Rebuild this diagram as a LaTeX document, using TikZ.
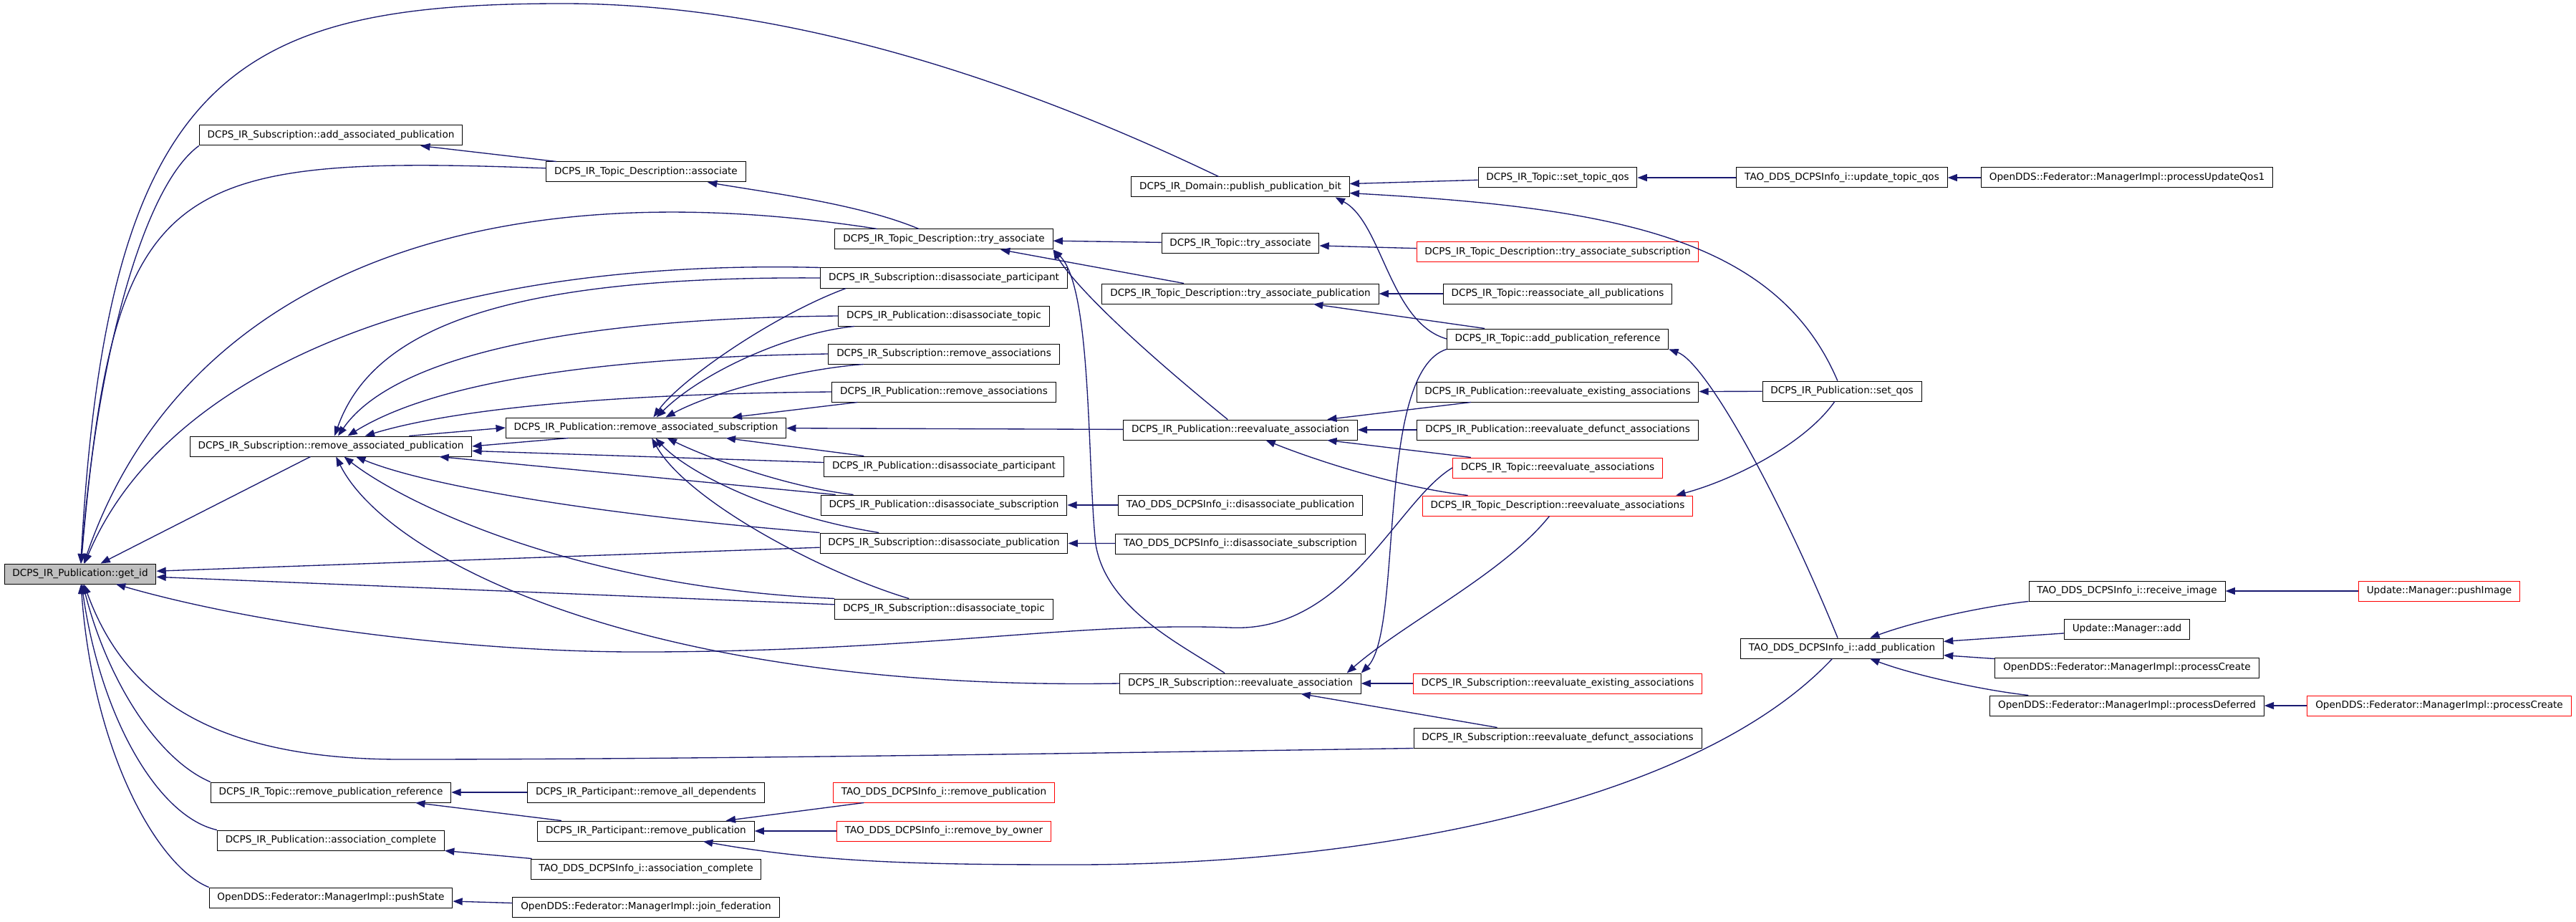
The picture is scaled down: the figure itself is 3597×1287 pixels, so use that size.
\documentclass[tikz,border=0pt]{standalone}
\usepackage{fontspec}
\setmainfont{DejaVu Sans}
\usepackage{tikz}
\usetikzlibrary{arrows.meta}
\definecolor{callblue}{RGB}{25,25,112}
\definecolor{selfgray}{RGB}{191,191,191}

\begin{document}
\begin{tikzpicture}[x=0.75bp,y=-0.75bp,>={Triangle[length=10bp,width=7.5bp]},
  fn/.style={draw=black,line width=0.75bp,fill=white,font=\fontsize{10.2bp}{12bp}\selectfont,
    minimum height=21bp,inner xsep=8.5bp,inner ysep=0pt,text height=7.7bp,text depth=2.3bp},
  fnred/.style={fn,draw=red},
  calls/.style={<-,draw=callblue,line width=1bp}]
\path[use as bounding box,fill=white] (0,0) rectangle (3597,1287);
%%%FUNCTIONS
\node[fn,fill=selfgray] (getid) at (112,801) {DCPS\_IR\_Publication::get\_id};

\node[fn] (addassoc) at (462,189) {DCPS\_IR\_Subscription::add\_associated\_publication};
\node[fn] (remassocpub) at (462,623) {DCPS\_IR\_Subscription::remove\_associated\_publication};
\node[fn] (rempubref) at (462,1106) {DCPS\_IR\_Topic::remove\_publication\_reference};
\node[fn] (pubassoccompl) at (462,1173) {DCPS\_IR\_Publication::association\_complete};
\node[fn] (pushstate) at (462,1253) {OpenDDS::Federator::ManagerImpl::pushState};

\node[fn] (associate) at (902,240) {DCPS\_IR\_Topic\_Description::associate};
\node[fn] (remassocsub) at (902,597) {DCPS\_IR\_Publication::remove\_associated\_subscription};
\node[fn] (remalldeps) at (902,1106) {DCPS\_IR\_Participant::remove\_all\_dependents};
\node[fn] (partrempub) at (902,1160) {DCPS\_IR\_Participant::remove\_publication};
\node[fn] (taoassoccompl) at (902,1213) {TAO\_DDS\_DCPSInfo\_i::association\_complete};
\node[fn] (joinfed) at (902,1266) {OpenDDS::Federator::ManagerImpl::join\_federation};

\node[fn] (tryassoc) at (1318,334) {DCPS\_IR\_Topic\_Description::try\_associate};
\node[fn] (subdispart) at (1318,388) {DCPS\_IR\_Subscription::disassociate\_participant};
\node[fn] (pubdistopic) at (1318,441) {DCPS\_IR\_Publication::disassociate\_topic};
\node[fn] (subremassocs) at (1318,494) {DCPS\_IR\_Subscription::remove\_associations};
\node[fn] (pubremassocs) at (1318,547) {DCPS\_IR\_Publication::remove\_associations};
\node[fn] (pubdispart) at (1318,651) {DCPS\_IR\_Publication::disassociate\_participant};
\node[fn] (pubdissub) at (1318,705) {DCPS\_IR\_Publication::disassociate\_subscription};
\node[fn] (subdispub) at (1318,758) {DCPS\_IR\_Subscription::disassociate\_publication};
\node[fn] (subdistopic) at (1318,850) {DCPS\_IR\_Subscription::disassociate\_topic};
\node[fnred] (taorempub) at (1318,1106) {TAO\_DDS\_DCPSInfo\_i::remove\_publication};
\node[fnred] (taorembyowner) at (1318,1160) {TAO\_DDS\_DCPSInfo\_i::remove\_by\_owner};

\node[fn] (pubbit) at (1732,261) {DCPS\_IR\_Domain::publish\_publication\_bit};
\node[fn] (toptryassoc) at (1732,340) {DCPS\_IR\_Topic::try\_associate};
\node[fn] (tryassocpub) at (1732,410) {DCPS\_IR\_Topic\_Description::try\_associate\_publication};
\node[fn] (pubreeval) at (1732,600) {DCPS\_IR\_Publication::reevaluate\_association};
\node[fn] (taodispub) at (1732,705) {TAO\_DDS\_DCPSInfo\_i::disassociate\_publication};
\node[fn] (taodissub) at (1732,759) {TAO\_DDS\_DCPSInfo\_i::disassociate\_subscription};
\node[fn] (subreeval) at (1732,954) {DCPS\_IR\_Subscription::reevaluate\_association};

\node[fn] (settopicqos) at (2175,248) {DCPS\_IR\_Topic::set\_topic\_qos};
\node[fnred] (tryassocsub) at (2175,352) {DCPS\_IR\_Topic\_Description::try\_associate\_subscription};
\node[fn] (reassocall) at (2175,410) {DCPS\_IR\_Topic::reassociate\_all\_publications};
\node[fn] (addpubref) at (2175,473) {DCPS\_IR\_Topic::add\_publication\_reference};
\node[fn] (pubreevalex) at (2175,547) {DCPS\_IR\_Publication::reevaluate\_existing\_associations};
\node[fn] (pubreevaldef) at (2175,600) {DCPS\_IR\_Publication::reevaluate\_defunct\_associations};
\node[fnred] (topreeval) at (2175,653) {DCPS\_IR\_Topic::reevaluate\_associations};
\node[fnred] (tdreeval) at (2175,706) {DCPS\_IR\_Topic\_Description::reevaluate\_associations};
\node[fnred] (subreevalex) at (2175,954) {DCPS\_IR\_Subscription::reevaluate\_existing\_associations};
\node[fn] (subreevaldef) at (2175,1030) {DCPS\_IR\_Subscription::reevaluate\_defunct\_associations};

\node[fn] (updtopicqos) at (2572,248) {TAO\_DDS\_DCPSInfo\_i::update\_topic\_qos};
\node[fn] (setqos) at (2572,546) {DCPS\_IR\_Publication::set\_qos};
\node[fn] (addpub) at (2572,905) {TAO\_DDS\_DCPSInfo\_i::add\_publication};

\node[fn] (procupdqos) at (2970,248) {OpenDDS::Federator::ManagerImpl::processUpdateQos1};
\node[fn] (recvimage) at (2970,825) {TAO\_DDS\_DCPSInfo\_i::receive\_image};
\node[fn] (mgradd) at (2970,878) {Update::Manager::add};
\node[fn] (proccreate) at (2970,932) {OpenDDS::Federator::ManagerImpl::processCreate};
\node[fn] (procdeferred) at (2970,985) {OpenDDS::Federator::ManagerImpl::processDeferred};

\node[fnred] (pushimage) at (3406,825) {Update::Manager::pushImage};
\node[fnred] (proccreatetwo) at (3406,985) {OpenDDS::Federator::ManagerImpl::processCreate};

%%%CALLS INTO get_id
\draw[calls] (getid) .. controls (150,100) and (330,5) .. (786,5) .. controls (1150,5) and (1500,150) .. (pubbit);
\draw[calls] (getid) .. controls (135,500) and (200,260) .. (addassoc.south west);
\draw[calls] (getid) .. controls (160,250) and (230,215) .. (associate);
\draw[calls] (getid) .. controls (250,400) and (650,230) .. (tryassoc);
\draw[calls] (getid) .. controls (230,520) and (600,360) .. (subdispart.north west);
\draw[calls] (getid) -- (remassocpub);
\draw[calls] (getid) -- (subdispub);
\draw[calls] (getid) -- (subdistopic);
\draw[calls] (getid) .. controls (350,870) and (650,912) .. (914,910) .. controls (1300,908) and (1500,868) .. (1716,876) .. controls (1880,885) and (1950,700) .. (topreeval.west);
\draw[calls] (getid) .. controls (170,960) and (280,1060) .. (560,1060) .. controls (1000,1060) and (1600,1050) .. (subreevaldef.south west);
\draw[calls] (getid) .. controls (150,950) and (220,1060) .. (rempubref.north west);
\draw[calls] (getid) .. controls (140,1000) and (220,1140) .. (pubassoccompl.north west);
\draw[calls] (getid) .. controls (130,1050) and (220,1210) .. (pushstate.north west);

%%%CALLS INTO remove_associated_publication / subscription
\draw[calls] (remassocpub.east) -- ([xshift=66bp]remassocsub.south west);
\draw[calls] (remassocsub.west) -- ([xshift=-66bp]remassocpub.north east);
\draw[calls] (remassocpub) .. controls (520,460) and (700,385) .. (subdispart.west);
\draw[calls] (remassocpub) .. controls (540,510) and (750,445) .. (pubdistopic.west);
\draw[calls] (remassocpub) .. controls (580,550) and (760,500) .. (subremassocs.west);
\draw[calls] (remassocpub) .. controls (620,575) and (820,550) .. (pubremassocs.west);
\draw[calls] (remassocpub) -- (pubdispart);
\draw[calls] (remassocpub) -- (pubdissub);
\draw[calls] (remassocpub) .. controls (600,680) and (850,720) .. (subdispub.north west);
\draw[calls] (remassocpub) .. controls (560,700) and (800,820) .. (subdistopic.north west);
\draw[calls] (remassocpub) .. controls (540,780) and (900,965) .. (subreeval.west);
\draw[calls] (remassocsub) .. controls (950,530) and (1080,440) .. ([xshift=27bp]subdispart.south west);
\draw[calls] (remassocsub) .. controls (980,520) and (1100,465) .. ([xshift=17bp]pubdistopic.south west);
\draw[calls] (remassocsub) .. controls (1000,545) and (1120,515) .. ([xshift=37bp]subremassocs.south west);
\draw[calls] (remassocsub) -- (pubremassocs);
\draw[calls] (remassocsub) -- (pubdispart);
\draw[calls] (remassocsub) .. controls (990,640) and (1100,680) .. (pubdissub);
\draw[calls] (remassocsub) .. controls (960,660) and (1080,720) .. (subdispub);
\draw[calls] (remassocsub) .. controls (960,700) and (1150,800) .. (subdistopic);
\draw[calls] (remassocsub) -- (pubreeval);
\draw[calls] (pubdissub) -- (taodispub);
\draw[calls] (subdispub) -- (taodissub);

%%%CALLS INTO associate / try_associate
\draw[calls] (addassoc) -- (associate);
\draw[calls] (associate) .. controls (1080,270) and (1200,285) .. (tryassoc);
\draw[calls] (tryassoc) -- (toptryassoc);
\draw[calls] (tryassoc) -- (tryassocpub);
\draw[calls] (tryassoc.south east) .. controls (1495,390) and (1560,460) .. (pubreeval);
\draw[calls] (tryassoc.south east) .. controls (1525,400) and (1518,650) .. (1530,760) .. controls (1545,850) and (1650,900) .. (subreeval);
\draw[calls] (toptryassoc) -- (tryassocsub);
\draw[calls] (tryassocpub) -- (reassocall);
\draw[calls] (tryassocpub) -- (addpubref);

%%%CALLS ON THE RIGHT
\draw[calls] (pubbit) -- (settopicqos);
\draw[calls] (pubbit) .. controls (2250,290) and (2480,330) .. (setqos);
\draw[calls] ([xshift=-15bp]pubbit.south east) .. controls (1930,310) and (1940,450) .. (addpubref.west);
\draw[calls] (addpubref.south east) .. controls (2380,505) and (2480,680) .. (addpub);
\draw[calls] (settopicqos) -- (updtopicqos);
\draw[calls] (updtopicqos) -- (procupdqos);
\draw[calls] (pubreeval) -- (pubreevalex);
\draw[calls] (pubreeval) -- (pubreevaldef);
\draw[calls] (pubreeval) -- (topreeval);
\draw[calls] (pubreeval) .. controls (1830,640) and (1950,680) .. (tdreeval);
\draw[calls] (pubreevalex) -- (setqos);
\draw[calls] ([xshift=-18bp]tdreeval.north east) .. controls (2420,670) and (2520,620) .. (setqos);
\draw[calls] (subreeval) -- (subreevalex);
\draw[calls] (subreeval) -- (subreevaldef);
\draw[calls] ([xshift=-15bp]subreeval.north east) .. controls (1960,870) and (2100,800) .. (tdreeval);
\draw[calls] (subreeval.north east) .. controls (1960,880) and (1920,520) .. (addpubref.south west);
\draw[calls] (addpub) .. controls (2680,865) and (2780,845) .. (recvimage);
\draw[calls] (addpub) -- (mgradd);
\draw[calls] (addpub) -- (proccreate);
\draw[calls] (addpub) .. controls (2680,945) and (2780,965) .. (procdeferred);
\draw[calls] (recvimage) -- (pushimage);
\draw[calls] (procdeferred) -- (proccreatetwo);

%%%CALLS AT THE BOTTOM
\draw[calls] (rempubref) -- (remalldeps);
\draw[calls] (rempubref) -- (partrempub);
\draw[calls] (partrempub) -- (taorempub);
\draw[calls] (partrempub) -- (taorembyowner);
\draw[calls] (partrempub) .. controls (1150,1205) and (1300,1207) .. (1500,1207) .. controls (1950,1207) and (2380,1110) .. (addpub);
\draw[calls] (pubassoccompl) -- (taoassoccompl);
\draw[calls] (pushstate) -- (joinfed);
\end{tikzpicture}
\end{document}
